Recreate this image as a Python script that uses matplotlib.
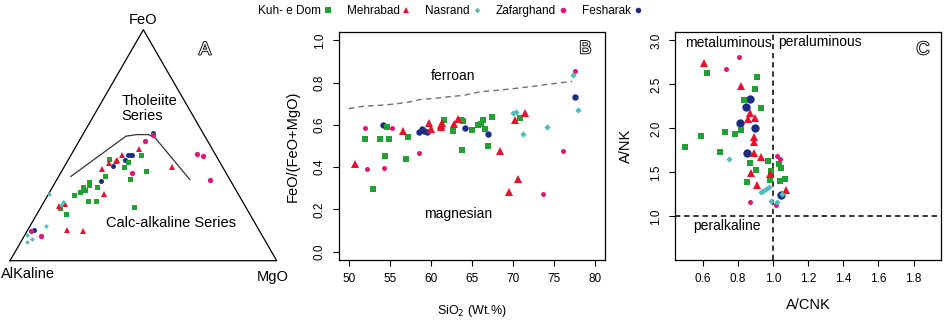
import numpy as np
import matplotlib
matplotlib.use("Agg")
import matplotlib.pyplot as plt
from matplotlib.lines import Line2D
import matplotlib.patheffects as pe

plt.rcParams['font.family'] = ['Liberation Sans', 'DejaVu Sans']

# ---------------- colours / series names ----------------
sites = ["Kuh- e Dom", "Mehrabad", "Nasrand", "Zafarghand", "Fesharak"]
colors = {"Kuh- e Dom": "#22A033", "Mehrabad": "#E8102B", "Nasrand": "#4DBDBD",
          "Zafarghand": "#E0177A", "Fesharak": "#1C2E83"}
markers = {"Kuh- e Dom": "s", "Mehrabad": "^", "Nasrand": "D",
           "Zafarghand": "o", "Fesharak": "o"}

# ---------------- Panel A : AFM ternary (A, F, M in %) ----------------
a_kuh_A = [40.7, 27.9, 34.3, 36.8, 29.5, 37.2, 41.8, 45.9, 53.5, 54.2, 51.3, 56.6, 56.4, 59.0, 61.7, 57.7, 54.7, 69.9, 69.1]
a_kuh_F = [44.1, 45.8, 42.8, 40.6, 38.8, 35.4, 23.2, 36.8, 34.1, 32.6, 31.9, 31.9, 30.7, 29.6, 28.4, 25.8, 25.8, 22.8, 20.1]
a_kuh_M = [15.2, 26.3, 23.0, 22.6, 31.7, 27.4, 35.0, 17.3, 12.4, 13.2, 16.8, 11.5, 12.9, 11.4, 9.9, 16.5, 19.5, 7.3, 10.8]

a_meh_A = [27.6, 34.9, 37.9, 38.8, 41.6, 45.5, 19.0, 50.5, 69.8, 67.2, 71.7, 66.3]
a_meh_F = [48.3, 45.9, 43.8, 43.0, 42.3, 39.9, 40.4, 28.8, 23.5, 24.5, 13.5, 12.9]
a_meh_M = [24.1, 19.2, 18.3, 18.2, 16.1, 14.6, 40.6, 20.7, 6.7, 8.3, 14.8, 20.8]

a_nas_A = [71.1, 67.7, 68.9, 78.9, 87.9, 87.2, 89.6]
a_nas_F = [28.8, 25.2, 24.2, 15.2, 11.2, 9.4, 8.3]
a_nas_M = [0.1, 7.1, 6.9, 5.9, 0.9, 3.4, 2.1]

a_zaf_A = [19.3, 23.5, 35.3, 6.6, 4.8, 7.4, 85.6, 83.0]
a_zaf_F = [54.3, 51.7, 37.8, 46.2, 45.5, 34.9, 12.9, 10.9]
a_zaf_M = [26.4, 24.8, 26.9, 47.2, 49.7, 57.7, 1.5, 6.1]

a_fes_A = [18.6, 32.7, 31.8, 31.2, 35.0, 40.7, 48.6, 84.2]
a_fes_F = [55.4, 45.9, 45.9, 45.9, 43.8, 41.2, 34.5, 13.3]
a_fes_M = [26.0, 21.4, 22.3, 22.9, 21.2, 18.1, 16.9, 2.5]

a_line_A = [58.9, 29.6, 25.2, 20.8, 19.0, 15.0]
a_line_F = [36.5, 53.9, 54.6, 54.6, 53.2, 35.1]
a_line_M = [4.6, 16.5, 20.2, 24.6, 27.8, 49.9]

# ---------------- Panel B : SiO2 vs FeO/(FeO+MgO) ----------------
b_kuh_x = [52.0, 53.8, 54.9, 54.6, 54.4, 53.0, 57.2, 57.0, 61.6, 62.7, 63.6, 63.9, 63.8, 65.0, 65.7, 66.3, 66.1, 66.6, 67.4, 66.9, 70.8]
b_kuh_y = [0.535, 0.535, 0.531, 0.589, 0.452, 0.294, 0.542, 0.440, 0.622, 0.573, 0.623, 0.618, 0.483, 0.578, 0.601, 0.622, 0.605, 0.580, 0.639, 0.499, 0.632]
b_meh_x = [50.8, 56.6, 59.8, 60.0, 61.2, 61.4, 61.2, 62.8, 63.3, 68.4, 69.5, 70.6, 70.2, 71.5]
b_meh_y = [0.413, 0.570, 0.610, 0.580, 0.600, 0.610, 0.588, 0.605, 0.627, 0.476, 0.284, 0.345, 0.622, 0.657]
b_nas_x = [70.0, 70.4, 71.2, 74.1, 77.35, 77.9]
b_nas_y = [0.655, 0.660, 0.559, 0.589, 0.838, 0.669]
b_zaf_x = [52.0, 55.2, 52.2, 54.3, 58.6, 76.1, 73.7, 77.5]
b_zaf_y = [0.585, 0.585, 0.390, 0.397, 0.465, 0.474, 0.271, 0.855]
b_fes_x = [54.2, 58.6, 58.9, 59.2, 59.5, 64.2, 67.0, 77.5]
b_fes_y = [0.600, 0.568, 0.580, 0.572, 0.565, 0.585, 0.557, 0.732]
b_line_x = [50.0, 51.7, 54.2, 55.6, 57.2, 58.65, 59.9, 61.9, 64.0, 66.0, 67.6, 70.1, 72.5, 74.2, 77.2]
b_line_y = [0.677, 0.688, 0.694, 0.699, 0.707, 0.720, 0.724, 0.732, 0.740, 0.757, 0.762, 0.772, 0.783, 0.792, 0.806]

# ---------------- Panel C : A/CNK vs A/NK ----------------
c_kuh_x = [0.625, 0.907, 0.900, 0.835, 0.930, 0.816, 0.726, 0.783, 0.590, 0.497, 0.700, 0.870, 0.971, 0.906, 0.850, 0.990, 0.985, 1.035, 1.048, 1.040, 1.070]
c_kuh_y = [2.630, 2.582, 2.450, 2.325, 2.236, 1.980, 1.958, 1.934, 1.909, 1.790, 1.728, 1.607, 1.635, 1.525, 1.393, 1.520, 1.415, 1.590, 1.545, 1.405, 1.425]
c_meh_x = [0.606, 0.816, 0.858, 0.870, 0.898, 0.892, 0.892, 0.892, 0.934, 0.877, 0.911, 0.983, 1.075]
c_meh_y = [2.743, 2.480, 2.110, 2.170, 2.116, 1.900, 1.850, 1.720, 1.680, 1.496, 1.356, 1.477, 1.300]
c_nas_x = [0.751, 0.930, 0.943, 0.962, 0.980, 0.990, 1.022, 1.052]
c_nas_y = [1.654, 1.280, 1.289, 1.316, 1.334, 1.180, 1.158, 1.250]
c_zaf_x = [0.808, 0.735, 1.025, 1.042, 0.867, 1.016]
c_zaf_y = [2.808, 2.670, 1.688, 1.652, 1.163, 1.126]
c_fes_x = [0.870, 0.845, 0.811, 0.897, 0.854, 1.048]
c_fes_y = [2.334, 2.242, 2.060, 2.000, 1.720, 1.244]

# ---------------- figure ----------------
fig = plt.figure(figsize=(9.45, 3.23), dpi=100)

def tern(A, F, M):
    A, F, M = (np.asarray(v, float) for v in (A, F, M))
    s = A + F + M
    f, m = F / s, M / s
    return m + f / 2.0, f * np.sqrt(3) / 2.0

# Panel A axes: pixel mapping of triangle (10..276.7 px wide, base at y=260.7 px)
axA = fig.add_axes([0, 0, 290 / 945, 1])
axA.set_xlim((0 - 10) / 266.7, (290 - 10) / 266.7)
axA.set_ylim((260.7 - 323) / 266.7, (260.7 - 0) / 266.7)
axA.axis('off')
tx, ty = tern([100, 0, 0, 100], [0, 100, 0, 0], [0, 0, 100, 0])
axA.plot(tx, ty, color='black', lw=0.9)
lx, ly = tern(a_line_A, a_line_F, a_line_M)
axA.plot(lx, ly, color='#333333', lw=0.9)

msA = {"Kuh- e Dom": 3.6, "Mehrabad": 4.2, "Nasrand": 2.4, "Zafarghand": 3.8, "Fesharak": 3.6}
dataA = {"Fesharak": (a_fes_A, a_fes_F, a_fes_M), "Kuh- e Dom": (a_kuh_A, a_kuh_F, a_kuh_M),
         "Mehrabad": (a_meh_A, a_meh_F, a_meh_M), "Zafarghand": (a_zaf_A, a_zaf_F, a_zaf_M),
         "Nasrand": (a_nas_A, a_nas_F, a_nas_M)}
for k, (A, F, M) in dataA.items():
    x, y = tern(A, F, M)
    axA.plot(x, y, ls='none', marker=markers[k], color=colors[k], ms=msA[k], mew=0)

axA.text(0.4976, 0.902, "FeO", ha='center', va='center', fontsize=10.5)
axA.text(0.0675, -0.05, "AlKaline", ha='center', va='center', fontsize=10.5)
axA.text(0.986, -0.062, "MgO", ha='center', va='center', fontsize=10.5)
axA.text(0.419, 0.572, "Tholeiite\nSeries", ha='left', va='center', fontsize=10.5, linespacing=1.1)
axA.text(0.602, 0.1425, "Calc-alkaline Series", ha='center', va='center', fontsize=10.5)
axA.text(0.731, 0.79, "A", ha='center', va='center', fontsize=13, color='white',
         path_effects=[pe.withStroke(linewidth=1.3, foreground='black')])

def style(ax):
    ax.tick_params(direction='out', length=4.5, width=0.8, labelsize=8.5, pad=5)
    for lab in ax.get_yticklabels():
        lab.set_rotation(90)
        lab.set_va('center')
    for s in ax.spines.values():
        s.set_linewidth(0.9)

# Panel B
axB = fig.add_axes([339 / 945, 1 - 260 / 323, 266 / 945, 228 / 323])
axB.set_xlim(48.8, 81.2)
axB.set_ylim(-0.04, 1.04)
axB.plot(b_line_x, b_line_y, color='#707070', lw=1.0, ls=(0, (4, 3)))
msB = {"Kuh- e Dom": 5.0, "Mehrabad": 6.0, "Nasrand": 3.2, "Zafarghand": 3.6, "Fesharak": 4.6}
dataB = {"Fesharak": (b_fes_x, b_fes_y), "Kuh- e Dom": (b_kuh_x, b_kuh_y),
         "Mehrabad": (b_meh_x, b_meh_y), "Zafarghand": (b_zaf_x, b_zaf_y),
         "Nasrand": (b_nas_x, b_nas_y)}
for k, (x, y) in dataB.items():
    axB.plot(x, y, ls='none', marker=markers[k], color=colors[k], ms=msB[k], mew=0)
axB.set_xticks(np.arange(50, 81, 5))
axB.set_yticks(np.arange(0, 1.01, 0.2))
axB.set_yticklabels([f"{v:.1f}" for v in np.arange(0, 1.01, 0.2)])
style(axB)
axB.set_xlabel("SiO$_2$ (Wt.%)", fontsize=9, labelpad=13)
axB.set_ylabel("FeO/(FeO+MgO)", fontsize=10.5, labelpad=10)
axB.text(62.7, 0.833, "ferroan", ha='center', va='center', fontsize=10)
axB.text(63.3, 0.176, "magnesian", ha='center', va='center', fontsize=10)
axB.text(78.8, 0.96, "B", ha='center', va='center', fontsize=13, color='white',
         path_effects=[pe.withStroke(linewidth=1.3, foreground='black')])

# Panel C
axC = fig.add_axes([675.3 / 945, 1 - 260 / 323, 265.7 / 945, 228 / 323])
axC.set_xlim(0.444, 1.956)
axC.set_ylim(0.504, 3.096)
axC.axvline(1.0, color='black', lw=1.1, ls=(0, (3.5, 2.5)))
axC.axhline(1.0, color='black', lw=1.1, ls=(0, (3.5, 2.5)))
msC = {"Kuh- e Dom": 5.0, "Mehrabad": 6.0, "Nasrand": 3.2, "Zafarghand": 3.6, "Fesharak": 6.0}
dataC = {"Fesharak": (c_fes_x, c_fes_y), "Kuh- e Dom": (c_kuh_x, c_kuh_y),
         "Mehrabad": (c_meh_x, c_meh_y), "Zafarghand": (c_zaf_x, c_zaf_y),
         "Nasrand": (c_nas_x, c_nas_y)}
for k, (x, y) in dataC.items():
    axC.plot(x, y, ls='none', marker=markers[k], color=colors[k], ms=msC[k], mew=0)
axC.set_xticks(np.arange(0.6, 1.81, 0.2))
axC.set_xticklabels([f"{v:.1f}" for v in np.arange(0.6, 1.81, 0.2)])
axC.set_yticks(np.arange(1.0, 3.01, 0.5))
axC.set_yticklabels([f"{v:.1f}" for v in np.arange(1.0, 3.01, 0.5)])
style(axC)
axC.set_xlabel("A/CNK", fontsize=10.5, labelpad=9)
axC.set_ylabel("A/NK", fontsize=10.5, labelpad=12)
axC.text(0.749, 2.968, "metaluminous", ha='center', va='center', fontsize=10)
axC.text(1.269, 2.98, "peraluminous", ha='center', va='center', fontsize=10)
axC.text(0.74, 0.894, "peralkaline", ha='center', va='center', fontsize=10)
axC.text(1.853, 2.894, "C", ha='center', va='center', fontsize=13, color='white',
         path_effects=[pe.withStroke(linewidth=1.3, foreground='black')])

# Legend (label followed by marker)
handles = [Line2D([], [], ls='none', marker=markers[k], color=colors[k],
                  ms=(4.0 if k != "Nasrand" else 2.8), mew=0) for k in sites]
fig.legend(handles, sites, ncol=5, markerfirst=False, frameon=False,
           loc='center', bbox_to_anchor=(0.4757, 0.965), fontsize=8.5,
           handlelength=0.6, handletextpad=0.3, columnspacing=1.3,
           borderaxespad=0, borderpad=0)

fig.savefig("out.png", dpi=100)
